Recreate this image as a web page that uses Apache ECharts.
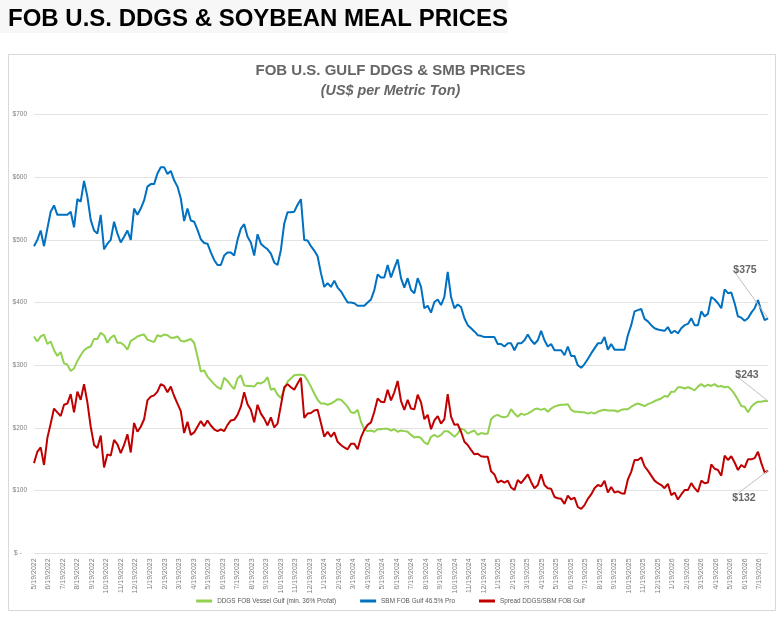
<!DOCTYPE html>
<html>
<head>
<meta charset="utf-8">
<title>FOB U.S. DDGS &amp; Soybean Meal Prices</title>
<script src="https://cdn.jsdelivr.net/npm/echarts@6/dist/echarts.min.js"></script>
<style>
    html, body { margin: 0; padding: 0; background: #fff; }
    #chart { width: 781px; height: 621px; }
</style>
</head>
<body>
<div id="chart"></div>
<script>
    // month tick labels (x axis)
    var monthLabels = [
        '5/19/2022', '6/19/2022', '7/19/2022', '8/19/2022', '9/19/2022', '10/19/2022', '11/19/2022', '12/19/2022',
        '1/19/2023', '2/19/2023', '3/19/2023', '4/19/2023', '5/19/2023', '6/19/2023', '7/19/2023', '8/19/2023',
        '9/19/2023', '10/19/2023', '11/19/2023', '12/19/2023',
        '1/19/2024', '2/19/2024', '3/19/2024', '4/19/2024', '5/19/2024', '6/19/2024', '7/19/2024', '8/19/2024',
        '9/19/2024', '10/19/2024', '11/19/2024', '12/19/2024',
        '1/19/2025', '2/19/2025', '3/19/2025', '4/19/2025', '5/19/2025', '6/19/2025', '7/19/2025', '8/19/2025',
        '9/19/2025', '10/19/2025', '11/19/2025', '12/19/2025',
        '1/19/2026', '2/19/2026', '3/19/2026', '4/19/2026', '5/19/2026', '6/19/2026', '7/19/2026'
    ];

    // weekly prices, US$ per metric ton
    var ddgs = [
        346, 338, 346, 349, 334, 338, 324, 315, 321, 303, 301, 291, 295, 307, 316, 324, 328, 330, 342, 342,
        352, 348, 336, 344, 348, 336, 336, 332, 325, 339, 342, 346, 348, 349, 341, 339, 337, 348, 346, 349,
        348, 344, 344, 346, 339, 338, 340, 342, 336, 314, 290, 292, 282, 276, 270, 265, 262, 280, 275, 268,
        262, 279, 284, 268, 267, 267, 266, 272, 271, 274, 281, 261, 263, 253, 248, 261, 274, 279, 284, 285,
        285, 284, 276, 266, 255, 245, 239, 239, 237, 239, 242, 246, 245, 240, 234, 225, 224, 229, 210, 198,
        195, 196, 194, 198, 198, 199, 199, 196, 198, 194, 196, 195, 194, 189, 185, 186, 184, 177, 174, 186,
        189, 186, 189, 195, 195, 191, 186, 191, 199, 197, 191, 194, 196, 189, 192, 191, 191, 214, 219, 221,
        218, 217, 219, 230, 223, 218, 223, 221, 223, 226, 230, 231, 229, 231, 226, 231, 234, 236, 237, 237,
        238, 229, 226, 226, 225, 225, 223, 225, 223, 226, 228, 229, 228, 228, 228, 226, 229, 230, 230, 234,
        237, 239, 237, 235, 238, 240, 243, 245, 247, 251, 250, 258, 258, 265, 265, 263, 265, 263, 260, 266,
        270, 266, 269, 267, 270, 266, 267, 265, 266, 261, 254, 245, 235, 234, 225, 234, 239, 242, 242, 243,
        243
    ];
    var sbm = [
        490, 500, 515, 490, 518, 545, 555, 540, 540, 540, 540, 545, 520, 565, 561, 594, 569, 532, 515, 510,
        540, 485, 494, 500, 529, 510, 496, 505, 515, 500, 550, 540, 550, 563, 585, 589, 589, 606, 616, 616,
        605, 610, 595, 585, 566, 530, 550, 531, 529, 516, 501, 495, 494, 480, 468, 460, 460, 475, 480, 480,
        475, 500, 518, 525, 505, 496, 475, 509, 494, 489, 485, 478, 464, 460, 484, 526, 544, 544, 545, 556,
        565, 500, 499, 490, 483, 474, 447, 425, 431, 425, 435, 424, 418, 409, 400, 400, 399, 395, 395, 395,
        400, 405, 420, 445, 440, 440, 460, 440, 455, 469, 439, 424, 439, 420, 415, 439, 425, 391, 395, 384,
        401, 405, 396, 409, 449, 409, 391, 397, 393, 375, 364, 359, 354, 348, 347, 345, 345, 345, 345, 334,
        334, 330, 335, 335, 324, 335, 335, 340, 349, 340, 334, 340, 355, 340, 330, 334, 324, 324, 324, 316,
        330, 315, 315, 300, 296, 302, 310, 319, 327, 335, 335, 345, 325, 334, 325, 325, 325, 325, 348, 364,
        386, 388, 390, 374, 370, 364, 359, 357, 356, 355, 361, 351, 355, 351, 359, 364, 366, 375, 364, 364,
        386, 378, 382, 409, 405, 399, 391, 421, 415, 416, 399, 378, 376, 371, 375, 384, 391, 404, 386, 372,
        375
    ];
    var spread = [
        144, 162, 169, 141, 184, 207, 231, 225, 219, 237, 239, 254, 225, 258, 245, 270, 241, 202, 173, 168,
        188, 137, 158, 156, 181, 174, 160, 173, 190, 161, 208, 194, 202, 214, 244, 250, 252, 258, 270, 267,
        257, 266, 251, 239, 227, 192, 210, 189, 193, 202, 211, 203, 212, 204, 198, 195, 198, 195, 205, 212,
        213, 221, 234, 257, 238, 229, 209, 237, 223, 215, 204, 217, 201, 207, 236, 265, 270, 265, 261, 271,
        280, 216, 223, 224, 228, 229, 208, 186, 194, 186, 193, 178, 173, 169, 166, 175, 175, 166, 185, 197,
        205, 209, 226, 247, 242, 241, 261, 244, 257, 275, 243, 229, 245, 231, 230, 253, 241, 214, 221, 198,
        212, 219, 207, 214, 254, 218, 205, 206, 194, 178, 173, 165, 158, 159, 155, 154, 154, 131, 126, 113,
        116, 113, 116, 105, 101, 117, 112, 119, 126, 114, 104, 109, 126, 109, 104, 103, 90, 88, 87, 79,
        92, 86, 89, 74, 71, 77, 87, 94, 104, 109, 107, 116, 97, 106, 97, 99, 96, 95, 118, 130,
        149, 149, 153, 139, 132, 124, 116, 112, 109, 104, 111, 93, 97, 86, 94, 101, 101, 112, 104, 98,
        116, 112, 113, 142, 135, 133, 124, 156, 149, 155, 145, 133, 141, 137, 150, 150, 152, 162, 144, 129,
        132
    ];

    var seriesNames = ['DDGS FOB Vessel Gulf (min. 36% Profat)', 'SBM FOB Gulf 46.5% Pro', 'Spread DDGS/SBM FOB Gulf'];
    var seriesColors = ['#92D050', '#0070C0', '#C00000'];

    var MONTHS_PER_WEEK = 7 / 30.4375;   // x axis is measured in months from 5/19/2022
    var sans = '"Liberation Sans", Arial, sans-serif';
    var xEnd = (sbm.length - 1) * MONTHS_PER_WEEK;

    // weekly points; the last one carries the callout label
    function toPoints(values) {
        return values.map(function (v, i) {
            var p = { value: [i * MONTHS_PER_WEEK, v] };
            if (i === values.length - 1) {
                p.label = { show: true, formatter: '$' + v };
            }
            return p;
        });
    }

    function makeSeries(idx, values, offset) {
        return {
            name: seriesNames[idx],
            type: 'line',
            data: toPoints(values),
            showSymbol: true,
            symbol: 'circle',
            symbolSize: 0,
            lineStyle: { width: 2, color: seriesColors[idx] },
            itemStyle: { color: seriesColors[idx] },
            label: {
                show: false,
                position: 'inside',
                color: '#666',
                fontWeight: 'bold',
                fontSize: 10.5,
                fontFamily: sans
            },
            labelLine: { show: true, lineStyle: { color: '#bfbfbf', width: 1 } },
            labelLayout: { dx: offset[0], dy: offset[1] },
            emphasis: { disabled: true }
        };
    }

    var chart = echarts.init(document.getElementById('chart'));
    var option = {
        animation: false,
        backgroundColor: '#fff',
        graphic: [
            { type: 'rect', shape: { x: 0, y: 0, width: 508, height: 33 }, style: { fill: '#f7f7f7' }, z: -10 },
            { type: 'rect', shape: { x: 8.5, y: 54.5, width: 767, height: 556 },
              style: { fill: 'none', stroke: '#d9d9d9', lineWidth: 1 }, z: -10 }
        ],
        title: [
            {
                text: 'FOB U.S. DDGS & SOYBEAN MEAL PRICES',
                left: 8,
                top: 7,
                padding: 0,
                textStyle: { fontSize: 24, fontWeight: 'bold', color: '#000', fontFamily: sans }
            },
            {
                text: 'FOB U.S. GULF DDGS & SMB PRICES',
                subtext: '(US$ per Metric Ton)',
                left: 'center',
                top: 63,
                padding: 0,
                itemGap: 6,
                textStyle: { fontSize: 15, lineHeight: 15, fontWeight: 'bold', color: '#666', fontFamily: sans },
                subtextStyle: { fontSize: 14.3, lineHeight: 14, fontWeight: 'bold', fontStyle: 'italic', color: '#666', fontFamily: sans }
            }
        ],
        legend: {
            data: seriesNames,
            left: 'center',
            top: 598,
            padding: 0,
            icon: 'rect',
            itemWidth: 16,
            itemHeight: 3,
            itemGap: 24,
            textStyle: { fontSize: 6.4, color: '#595959', fontFamily: sans }
        },
        grid: { left: 34, right: 13, top: 114.5, bottom: 67.6, outerBoundsMode: 'none' },
        xAxis: {
            type: 'value',
            min: 0,
            max: xEnd,
            interval: 1,
            axisLine: { show: false },
            axisTick: { show: false },
            splitLine: { show: false },
            axisLabel: {
                rotate: 90,
                margin: 5,
                fontSize: 7,
                color: '#7f7f7f',
                fontFamily: sans,
                showMaxLabel: false,
                formatter: function (v) {
                    return Math.abs(v - Math.round(v)) < 1e-6 && monthLabels[Math.round(v)] ? monthLabels[Math.round(v)] : '';
                }
            }
        },
        yAxis: {
            type: 'value',
            min: 0,
            max: 700,
            interval: 100,
            axisLine: { show: false },
            axisTick: { show: false },
            splitLine: { lineStyle: { color: '#e3e3e3', width: 1 } },
            axisLabel: {
                margin: 7,
                fontSize: 6.5,
                color: '#7f7f7f',
                fontFamily: sans,
                formatter: function (v) { return v === 0 ? '$ -   ' : '$' + v; }
            }
        },
        series: [
            makeSeries(0, ddgs, [-21, -26]),
            makeSeries(1, sbm, [-23, -48]),
            makeSeries(2, spread, [-24, 27])
        ]
    };
    chart.setOption(option);
</script>
</body>
</html>
